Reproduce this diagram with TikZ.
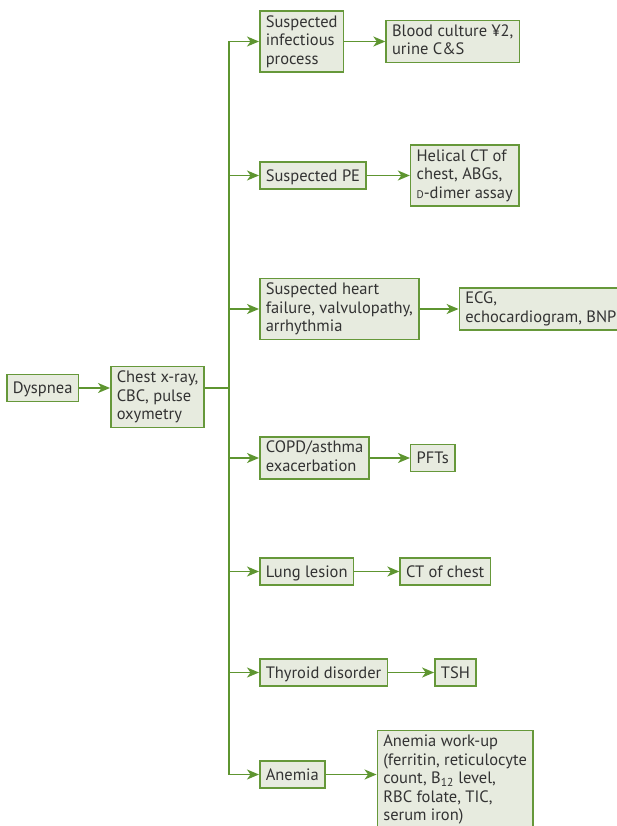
\documentclass[tikz,border=0pt]{standalone}
\usepackage{fontspec}
\setmainfont{PT Sans}
\usetikzlibrary{arrows.meta,positioning}
\definecolor{boxGreen}{HTML}{66983A}
\definecolor{lineGreen}{HTML}{5E9530}
\definecolor{boxFill}{HTML}{E7EBDF}
\definecolor{inkGray}{HTML}{333333}

\tikzset{
  stepbox/.style={draw=boxGreen,line width=1.5pt,fill=boxFill,text=inkGray,align=left,
    inner xsep=6pt,inner ysep=4.25pt,font={\fontsize{16.5}{18.5}\selectfont},
    execute at begin node={\rule[-3.45pt]{0pt}{18.5pt}},
    execute at end node={\rule[-3.45pt]{0pt}{18.5pt}}},
  flow/.style={-{Stealth[length=12pt,width=10pt,inset=3.5pt]},line width=1.6pt,lineGreen},
  trunk/.style={line width=1.6pt,lineGreen}
}

\begin{document}
\begin{tikzpicture}[x=1pt,y=-1pt]
  \useasboundingbox (0,0) rectangle (616,826);

  % first steps
  \node[stepbox,anchor=west] (dysp) at (6,388) {Dyspnea};
  \node[stepbox,anchor=west] (chest) at (110,397) {Chest x-ray,\\CBC, pulse\\oxymetry};
  \coordinate (fork) at (229,388);

  % suspected causes
  \node[stepbox,anchor=west] (inf) at (259,41.5) {Suspected\\infectious\\process};
  \node[stepbox,anchor=west] (pe) at (259,175.5) {Suspected PE};
  \node[stepbox,anchor=west] (heart) at (259,309) {Suspected heart\\failure, valvulopathy,\\arrhythmia};
  \node[stepbox,anchor=west] (copd) at (259,458) {COPD/asthma\\exacerbation};
  \node[stepbox,anchor=west] (lung) at (259,571.5) {Lung lesion};
  \node[stepbox,anchor=west] (thy) at (259,672.5) {Thyroid disorder};
  \node[stepbox,anchor=west] (anem) at (259,774.5) {Anemia};

  % work-up
  \node[stepbox,right=41pt of inf] (blood) {Blood culture ¥2,\\urine C\&S};
  \node[stepbox,right=43pt of pe] (helical) {Helical CT of\\chest, ABGs,\\{\fontsize{11}{12}\selectfont D}-dimer assay};
  \node[stepbox,right=39pt of heart] (ecg) {ECG,\\echocardiogram, BNP};
  \node[stepbox,right=40pt of copd] (pfts) {PFTs};
  \node[stepbox,right=45pt of lung] (ctc) {CT of chest};
  \node[stepbox,right=46pt of thy] (tsh) {TSH};
  \node[stepbox,right=51pt of anem,yshift=-5pt] (work)
    {Anemia work-up\\(ferritin, reticulocyte\\count, B\textsubscript{12} level,\\RBC folate, TIC,\\serum iron)};

  \draw[flow] (dysp) -- (dysp -| chest.west);
  \draw[trunk] (chest.east |- dysp) -- (fork);
  \draw[trunk] (fork |- inf) -- (fork |- anem);

  \draw[flow] (fork |- inf) -- (inf);
  \draw[flow] (fork |- pe) -- (pe);
  \draw[flow] (fork |- heart) -- (heart);
  \draw[flow] (fork |- copd) -- (copd);
  \draw[flow] (fork |- lung) -- (lung);
  \draw[flow] (fork |- thy) -- (thy);
  \draw[flow] (fork |- anem) -- (anem);

  \draw[flow] (inf) -- (blood);
  \draw[flow] (pe) -- (helical);
  \draw[flow] (heart) -- (ecg);
  \draw[flow] (copd) -- (pfts);
  \draw[flow] (lung) -- (ctc);
  \draw[flow] (thy) -- (tsh);
  \draw[flow] (anem) -- (anem -| work.west);
\end{tikzpicture}
\end{document}
